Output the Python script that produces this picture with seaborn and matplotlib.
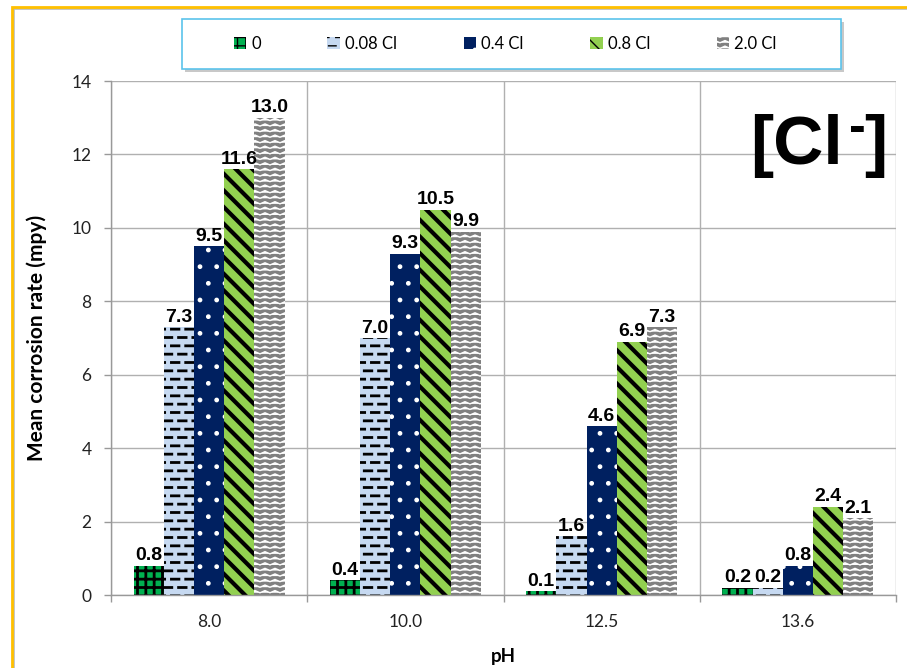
import numpy as np
import pandas as pd
import seaborn as sns
import matplotlib.pyplot as plt
import matplotlib.patches as mpatches
import matplotlib.hatch as mhatch
from matplotlib.path import Path

# data
ph_levels = ['8.0', '10.0', '12.5', '13.6']
series = ['0', '0.08 Cl', '0.4 Cl', '0.8 Cl', '2.0 Cl']
rate_0 = [0.8, 0.4, 0.1, 0.2]
rate_008 = [7.3, 7.0, 1.6, 0.2]
rate_04 = [9.5, 9.3, 4.6, 0.8]
rate_08 = [11.6, 10.5, 6.9, 2.4]
rate_20 = [13.0, 9.9, 7.3, 2.1]

colores = ['#00B050', '#C6D9F1', '#002060', '#92D050', '#808080']


# extra hatch patterns (zigzag and staggered dashes) like the Excel fills
class ZigZag(mhatch.HatchPatternBase):
    def __init__(self, hatch, density):
        self.num_rows = int(hatch.count('O') * density)
        self.peaks = 10
        self.num_vertices = self.num_rows * (2 * self.peaks + 1)

    def set_vertices_and_codes(self, vertices, codes):
        n = 2 * self.peaks + 1
        xs = np.linspace(0, 1, n)
        signo = np.where(np.arange(n) % 2 == 0, -1.0, 1.0)
        for i in range(self.num_rows):
            y0 = (i + 0.5) / self.num_rows
            vertices[i * n:(i + 1) * n, 0] = xs
            vertices[i * n:(i + 1) * n, 1] = y0 + 0.011 * signo
            codes[i * n] = Path.MOVETO
            codes[i * n + 1:(i + 1) * n] = Path.LINETO


class Guiones(mhatch.HatchPatternBase):
    def __init__(self, hatch, density):
        self.num_rows = int(hatch.count('o') * density)
        self.por_fila = 7
        self.num_vertices = self.num_rows * self.por_fila * 2

    def set_vertices_and_codes(self, vertices, codes):
        periodo = 1.0 / self.por_fila
        largo = 0.075
        k = 0
        for i in range(self.num_rows):
            y = (i + 0.5) / self.num_rows
            desplaz = 0.0 if i % 2 == 0 else periodo / 2
            for j in range(self.por_fila):
                x0 = (j * periodo + desplaz) % 1.0
                x1 = min(x0 + largo, 1.0)
                vertices[k] = (x0, y)
                vertices[k + 1] = (x1, y)
                codes[k] = Path.MOVETO
                codes[k + 1] = Path.LINETO
                k += 2


mhatch._hatch_types = [t for t in mhatch._hatch_types
                       if t not in (mhatch.LargeCircles, mhatch.SmallCircles)] + [ZigZag, Guiones]

hatches = ['++', 'oo', '.', '\\\\', 'OOO']
hatch_col = ['black', 'black', 'white', 'black', 'white']
hatch_lw = [2.0, 2.0, 1.0, 3.0, 1.0]

df = pd.DataFrame({
    'pH': ph_levels * 5,
    'Serie': np.repeat(series, 4),
    'Valor': rate_0 + rate_008 + rate_04 + rate_08 + rate_20,
})

sns.set_theme(style='white')
plt.rcParams['font.family'] = ['Lato', 'DejaVu Sans']
plt.rcParams['text.color'] = 'black'
plt.rcParams['axes.labelcolor'] = 'black'

fig = plt.figure(figsize=(9.07, 6.68), dpi=100)
ax = fig.add_axes([111 / 907, 73 / 668, 785 / 907, 514 / 668])

sns.barplot(data=df, x='pH', y='Valor', hue='Serie', order=ph_levels, hue_order=series,
            palette=colores, saturation=1, width=0.77, errorbar=None, legend=False, ax=ax)

for cont, h, hc, lw in zip(ax.containers, hatches, hatch_col, hatch_lw):
    for p in cont:
        p.set_hatch(h)
        p.set_edgecolor(hc)
        p.set_linewidth(0)
        if hasattr(p, 'set_hatch_linewidth'):
            p.set_hatch_linewidth(lw)
    ax.bar_label(cont, fmt='%.1f', padding=1, fontsize=14, fontweight='bold',
                 color='black', family=['Liberation Sans', 'DejaVu Sans'])

ax.set_ylim(0, 14)
ax.set_xlim(-0.5, 3.5)
ax.set_yticks(range(0, 15, 2))
ax.set_xticks(range(4))
ax.set_xticklabels(ph_levels)
ax.set_xticks(np.arange(-0.5, 4, 1), minor=True)
ax.set_axisbelow(True)
ax.grid(axis='y', which='major', color='#B0B0B0', linewidth=1)
ax.grid(axis='x', which='minor', color='#B0B0B0', linewidth=1)
ax.tick_params(axis='x', which='major', length=0, pad=14, labelsize=12.5, colors='#222222')
ax.tick_params(axis='x', which='minor', length=5, width=1, color='#999999', bottom=True)
ax.tick_params(axis='y', length=5, width=1, color='#999999', left=True, pad=9,
               labelsize=12.5, labelcolor='#222222')
for lado in ['top', 'right']:
    ax.spines[lado].set_visible(False)
for lado in ['left', 'bottom']:
    ax.spines[lado].set_color('#999999')
    ax.spines[lado].set_linewidth(1)

ax.set_xlabel('pH', fontsize=13.5, fontweight='bold')
ax.set_ylabel('Mean corrosion rate (mpy)', fontsize=15, fontweight='bold')
ax.xaxis.set_label_coords(0.5, -0.103)
ax.yaxis.set_label_coords(-0.082, 0.5)

# the [Cl-] tag, with a short superscript dash
fuente_cl = ['Liberation Sans', 'DejaVu Sans']
fig.text(750 / 907, 1 - 164 / 668, '[Cl', ha='left', va='baseline', fontsize=50,
         fontweight='bold', family=fuente_cl)
fig.text(887 / 907, 1 - 164 / 668, ']', ha='right', va='baseline', fontsize=50,
         fontweight='bold', family=fuente_cl)
fig.text(857 / 907, 1 - 142 / 668, '-', ha='center', va='baseline', fontsize=36,
         fontweight='bold', family=fuente_cl)

# legend box with shadow
fig.patches.append(mpatches.Rectangle((185 / 907, 1 - 72 / 668), 659 / 907, 50 / 668,
                                      transform=fig.transFigure, facecolor='#C8C8C8',
                                      edgecolor='none', zorder=1))
fig.patches.append(mpatches.Rectangle((182 / 907, 1 - 69 / 668), 659 / 907, 50 / 668,
                                      transform=fig.transFigure, facecolor='white',
                                      edgecolor='#5BC3EB', linewidth=1.2, zorder=2))
handles = [mpatches.Patch(facecolor=c, edgecolor=hc, linewidth=0, hatch=h)
           for c, h, hc in zip(colores, hatches, hatch_col)]
leg = fig.legend(handles, series, loc='center', bbox_to_anchor=(505 / 907, 1 - 44 / 668),
                 ncol=5, frameon=False, fontsize=12, handlelength=0.75, handleheight=0.75,
                 handletextpad=0.3, columnspacing=4.0)
leg.set_zorder(3)

# outer chart border
fig.patches.append(mpatches.Rectangle((14 / 907, -0.1), 1.0, 1 - 9 / 668 + 0.1,
                                      transform=fig.transFigure, facecolor='none',
                                      edgecolor='#BBBBBB', linewidth=1.2, zorder=0))
fig.patches.append(mpatches.Rectangle((12 / 907, -0.1), 1.0, 1 - 7 / 668 + 0.1,
                                      transform=fig.transFigure, facecolor='none',
                                      edgecolor='#FFC000', linewidth=2, zorder=0))

plt.savefig('out.png', dpi=100)
